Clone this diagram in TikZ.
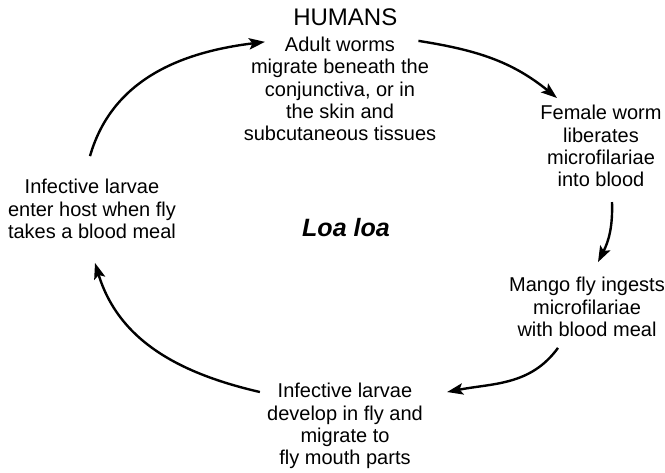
\documentclass[tikz,border=0pt]{standalone}
\usepackage{fontspec}
\setmainfont{Liberation Sans}
\usetikzlibrary{positioning,arrows.meta}

\begin{document}
\begin{tikzpicture}[
    x=0.75pt, y=-0.75pt,
    stage/.style={inner sep=0pt, align=center, font=\fontsize{15}{16.7}\selectfont},
    arr/.style={-{Stealth[length=12pt,width=8.5pt,inset=2.5pt]}, line width=1.8pt}
]
\useasboundingbox (0,0) rectangle (665,472);
\node[stage] (adult) at (340,89) {Adult worms\\migrate beneath the\\conjunctiva, or in\\the skin and\\subcutaneous tissues};
\node[inner sep=0pt, above=8pt of adult, xshift=4pt, font=\fontsize{18}{20}\selectfont] (humans) {HUMANS};
\node[stage] (female) at (601,146) {Female worm\\liberates\\microfilariae\\into blood};
\node[stage] (mango) at (587,307) {Mango fly ingests\\microfilariae\\with blood meal};
\node[stage] (develop) at (345,426) {Infective larvae\\develop in fly and\\migrate to\\fly mouth parts};
\node[stage] (enter) at (92,209) {Infective larvae\\enter host when fly\\takes a blood meal};
\node[inner sep=0pt, font=\fontsize{18.8}{20}\selectfont\bfseries\itshape] (loa) at (346,228) {Loa loa};
\draw[arr] ([shift={(-2,-23)}]enter.north) to[out=74, in=187] ([shift={(-75,5)}]adult.north);
\draw[arr] ([shift={(-18,4)}]adult.north east) to[out=-9, in=141] ([shift={(-44,-7)}]female.north);
\draw[arr] ([shift={(11,15)}]female.south) to[out=-88, in=63] ([shift={(11,-15)}]mango.north);
\draw[arr] ([shift={(-29,11)}]mango.south) to[out=234, in=11] ([shift={(24,9)}]develop.north east);
\draw[arr] ([shift={(-7,9)}]develop.north west) to[out=167, in=-73] ([shift={(3,24)}]enter.south);
\end{tikzpicture}
\end{document}
